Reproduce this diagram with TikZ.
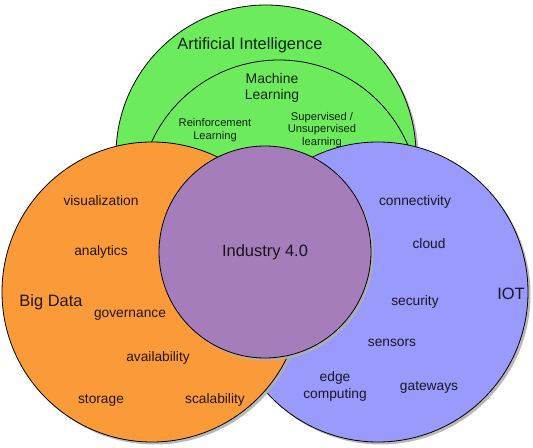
\documentclass[tikz,border=0pt]{standalone}
\usepackage{fontspec}
\setmainfont{Liberation Sans}
\usetikzlibrary{shadows}
\definecolor{aigreen}{HTML}{6CEB5C}
\definecolor{bdorange}{HTML}{FA9A38}
\definecolor{iotblue}{HTML}{9A9AFC}
\definecolor{indpurple}{HTML}{A57DBB}
\definecolor{shadowgray}{HTML}{B0B0B0}
\tikzset{
  venn/.style={circle, draw=black, line width=0.8pt, inner sep=0pt,
    drop shadow={shadow xshift=2.5pt, shadow yshift=-2.5pt, fill=shadowgray, opacity=0.9}},
  plainvenn/.style={circle, draw=black, line width=0.8pt, inner sep=0pt},
  biglabel/.style={font=\fontsize{16.5}{18}\selectfont, text=black, text opacity=0.85, inner sep=1pt},
  midlabel/.style={font=\fontsize{14}{16.5}\selectfont, text=black, text opacity=0.85, align=center, inner sep=1pt},
  smalllabel/.style={font=\fontsize{13.8}{16}\selectfont, text=black, text opacity=0.85, align=center, inner sep=1pt},
  tinylabel/.style={font=\fontsize{11.2}{13}\selectfont, text=black, text opacity=0.85, align=center, inner sep=1pt},
}
\begin{document}
\begin{tikzpicture}[x=1bp, y=-1bp]
\useasboundingbox (0,0) rectangle (533,448);
% circles
\node[venn, fill=aigreen, minimum size=300bp] (ai) at (266,155) {};
\node[plainvenn, fill=aigreen, minimum size=280bp] (ml) at (279,200) {};
\node[venn, fill=iotblue, minimum size=300bp] (iot) at (378,292) {};
\node[venn, fill=bdorange, minimum size=300bp] (bd) at (152,292) {};
\node[venn, fill=indpurple, minimum size=212bp] (ind) at (265,252) {};
% AI labels
\node[biglabel] (tai) at (250,45) {Artificial Intelligence};
\node[midlabel] (tml) at (272,88) {Machine\\Learning};
\node[tinylabel] (trl) at (215,130) {Reinforcement\\Learning};
\node[tinylabel, font=\fontsize{11.2}{12.6}\selectfont] (tsl) at (322,130) {Supervised /\\Unsupervised\\learning};
% Big data labels
\node[smalllabel] (tvis) at (101,201) {visualization};
\node[smalllabel] (tana) at (101,252) {analytics};
\node[biglabel] (tbd) at (51,302) {Big Data};
\node[smalllabel] (tgov) at (130,315) {governance};
\node[smalllabel] (tava) at (158,358) {availability};
\node[smalllabel] (tsto) at (101,400) {storage};
\node[smalllabel] (tsca) at (215,400) {scalability};
% Industry
\node[biglabel] (tind) at (265,252) {Industry 4.0};
% IOT labels
\node[smalllabel] (tcon) at (415,202) {connectivity};
\node[smalllabel] (tclo) at (429,244) {cloud};
\node[smalllabel] (tsec) at (415,302) {security};
\node[biglabel] (tiot) at (511,294) {IOT};
\node[smalllabel] (tsen) at (392,343) {sensors};
\node[smalllabel, font=\fontsize{13.8}{17}\selectfont] (tedg) at (335,386) {edge\\computing};
\node[smalllabel] (tgat) at (429,387) {gateways};
\end{tikzpicture}
\end{document}
